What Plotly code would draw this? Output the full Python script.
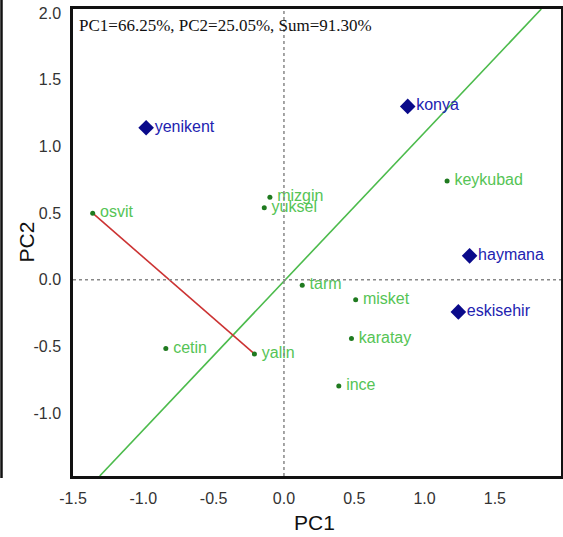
import plotly.graph_objects as go

# Genotypes (green dots)
gen_names = ["osvit", "mizgin", "yuksel", "keykubad", "cetin", "yalin", "tarm", "misket", "karatay", "ince"]
gen_pc1 = [-1.36, -0.10, -0.14, 1.16, -0.84, -0.21, 0.13, 0.51, 0.48, 0.39]
gen_pc2 = [0.50, 0.62, 0.54, 0.74, -0.515, -0.555, -0.04, -0.15, -0.44, -0.795]

# Environments (blue diamonds)
env_names = ["yenikent", "konya", "haymana", "eskisehir"]
env_pc1 = [-0.98, 0.88, 1.32, 1.24]
env_pc2 = [1.14, 1.30, 0.18, -0.24]

# Average environment axis (through origin) and the perpendicular segment
aea_x = [-1.31, 1.83]
aea_y = [-1.47, 2.03]
seg_x = [-1.36, -0.21]
seg_y = [0.50, -0.555]

x_ticks = [-1.5, -1.0, -0.5, 0.0, 0.5, 1.0, 1.5]
y_ticks = [-1.0, -0.5, 0.0, 0.5, 1.0, 1.5, 2.0]
x_range = [-1.5, 1.97]
y_range = [-1.47, 2.03]

W, H = 563, 537
ML, MR, MT, MB = 73, 2, 9, 61
PW, PH = W - ML - MR, H - MT - MB


def px_to_paper_x(px):
    return (px - ML) / PW


def px_to_paper_y(py):
    return (H - MB - py) / PH


fig = go.Figure()

fig.add_trace(go.Scatter(x=aea_x, y=aea_y, mode="lines",
                         line=dict(color="#4cbb4c", width=1.6), hoverinfo="skip"))
fig.add_trace(go.Scatter(x=seg_x, y=seg_y, mode="lines",
                         line=dict(color="#cc3333", width=1.6), hoverinfo="skip"))

fig.add_trace(go.Scatter(x=gen_pc1, y=gen_pc2, mode="markers+text",
                         text=["\u2009" + n for n in gen_names],
                         textposition="middle right",
                         textfont=dict(family="Liberation Sans, Arial", size=16, color="#55c455"),
                         marker=dict(symbol="circle", size=5, color="#1f7a1f")))
fig.add_trace(go.Scatter(x=env_pc1, y=env_pc2, mode="markers+text", text=env_names,
                         textposition="middle right",
                         textfont=dict(family="Liberation Sans, Arial", size=16, color="#2222b0"),
                         marker=dict(symbol="diamond", size=12, color="#0a0a8a")))

# dotted origin lines
fig.add_shape(type="line", x0=0, x1=0, y0=0, y1=1, xref="x", yref="paper",
              line=dict(color="#888888", width=1.5, dash="dot"))
fig.add_shape(type="line", x0=0, x1=1, y0=0, y1=0, xref="paper", yref="y",
              line=dict(color="#888888", width=1.5, dash="dot"))

# edge line at far left of the image
fig.add_shape(type="line", x0=px_to_paper_x(1.5), x1=px_to_paper_x(1.5),
              y0=px_to_paper_y(478), y1=px_to_paper_y(0), xref="paper", yref="paper",
              line=dict(color="#111111", width=2.5))

fig.add_annotation(text="PC1=66.25%, PC2=25.05%, Sum=91.30%", x=px_to_paper_x(77), y=px_to_paper_y(25),
                   xref="paper", yref="paper", xanchor="left", yanchor="middle",
                   showarrow=False,
                   font=dict(family="Liberation Serif, Times New Roman", size=17, color="#111111"))

title_font = dict(family="Liberation Sans, Arial", size=21, color="#111111")
fig.add_annotation(text="PC1", x=px_to_paper_x(314), y=px_to_paper_y(522), xref="paper", yref="paper",
                   xanchor="center", yanchor="middle", showarrow=False, font=title_font)
fig.add_annotation(text="PC2", x=px_to_paper_x(25.5), y=px_to_paper_y(242), xref="paper", yref="paper",
                   xanchor="center", yanchor="middle", showarrow=False, textangle=-90, font=title_font)

axis_common = dict(showgrid=False, zeroline=False, showline=True, mirror=True,
                   linecolor="#111111", linewidth=2.5, ticks="outside", ticklen=6,
                   tickcolor="rgba(0,0,0,0)", automargin=False,
                   tickfont=dict(family="Liberation Sans, Arial", size=16, color="#333333"))

fig.update_xaxes(range=x_range, tickvals=x_ticks, ticktext=[f"{v:.1f}" for v in x_ticks],
                 **axis_common)
fig.update_yaxes(range=y_range, tickvals=y_ticks, ticktext=[f"{v:.1f}" for v in y_ticks],
                 **axis_common)

fig.update_layout(width=W, height=H, showlegend=False,
                  margin=dict(l=ML, r=MR, t=MT, b=MB),
                  plot_bgcolor="white", paper_bgcolor="white")

fig.write_html("out.html", config={"displayModeBar": False},
               post_script="document.body.style.margin='0px';document.body.style.overflow='hidden';")
